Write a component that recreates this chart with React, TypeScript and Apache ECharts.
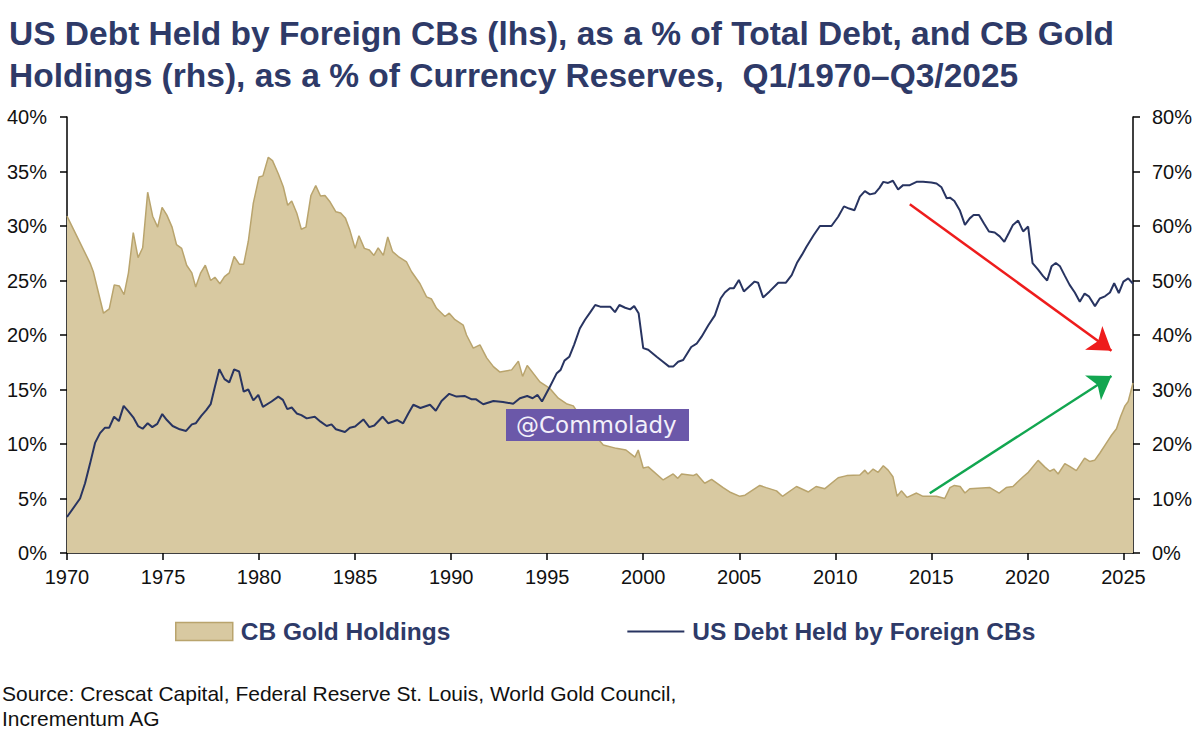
import { useEffect, useRef } from "react";
import * as echarts from "echarts";

const titleLines = [
  "US Debt Held by Foreign CBs (lhs), as a % of Total Debt, and CB Gold",
  "Holdings (rhs), as a % of Currency Reserves,  Q1/1970–Q3/2025",
];
const sourceLines = [
  "Source: Crescat Capital, Federal Reserve St. Louis, World Gold Council,",
  "Incrementum AG",
];
const seriesNames = ["CB Gold Holdings", "US Debt Held by Foreign CBs"];
const yearTicks = [1970, 1975, 1980, 1985, 1990, 1995, 2000, 2005, 2010, 2015, 2020, 2025];
const watermarkText = "@Commolady";

// CB gold holdings, % of currency reserves (rhs)
const goldYears = [
  1970.0, 1971.2, 1971.37, 1971.9, 1972.2, 1972.46, 1972.72, 1972.97, 1973.2, 1973.45, 1973.7, 1973.94,
  1974.2, 1974.46, 1974.72, 1974.95, 1975.2, 1975.47, 1975.7, 1975.97, 1976.23, 1976.5, 1976.7, 1976.96,
  1977.2, 1977.48, 1977.7, 1977.96, 1978.2, 1978.45, 1978.7, 1978.97, 1979.2, 1979.44, 1979.7, 1980.0,
  1980.2, 1980.48, 1980.7, 1981.0, 1981.26, 1981.49, 1981.7, 1981.96, 1982.2, 1982.44, 1982.7, 1982.95,
  1983.2, 1983.43, 1983.7, 1984.0, 1984.25, 1984.5, 1984.73, 1985.0, 1985.2, 1985.48, 1985.74, 1985.98,
  1986.2, 1986.47, 1986.7, 1986.95, 1987.25, 1987.68, 1987.94, 1988.38, 1988.72, 1988.98, 1989.24, 1989.68,
  1989.9, 1990.2, 1990.63, 1990.8, 1991.15, 1991.5, 1991.85, 1992.2, 1992.54, 1993.15, 1993.5, 1993.72,
  1993.96, 1994.62, 1995.14, 1995.58, 1996.0, 1996.36, 1997.1, 1997.92, 1998.6, 1999.1, 1999.57, 1999.74,
  2000.0, 2000.26, 2001.04, 2001.56, 2001.8, 2002.0, 2002.6, 2002.78, 2003.2, 2003.56, 2004.16, 2004.5,
  2005.03, 2005.3, 2006.07, 2006.4, 2006.94, 2007.25, 2007.98, 2008.6, 2009.0, 2009.46, 2010.15, 2010.6,
  2011.28, 2011.54, 2011.7, 2011.97, 2012.23, 2012.5, 2012.75, 2013.0, 2013.22, 2013.44, 2013.74, 2014.23,
  2014.57, 2015.27, 2015.7, 2015.97, 2016.2, 2016.5, 2016.75, 2017.0, 2018.05, 2018.53, 2018.9, 2019.25,
  2019.78, 2020.05, 2020.56, 2020.9, 2021.17, 2021.38, 2021.6, 2021.95, 2022.2, 2022.55, 2022.98, 2023.24,
  2023.5, 2023.77, 2024.12, 2024.38, 2024.64, 2024.85, 2025.08, 2025.25, 2025.5,
];
const goldShare = [
  61.8, 53.2, 51.6, 44.0, 44.8, 49.2, 49.0, 47.4, 51.4, 58.8, 54.2, 56.0,
  66.2, 61.8, 59.8, 63.4, 62.0, 59.8, 56.6, 55.9, 52.8, 51.4, 48.8, 51.4,
  52.8, 50.0, 50.6, 49.4, 50.7, 51.4, 54.4, 53.0, 53.0, 57.2, 64.2, 69.0,
  69.2, 72.6, 72.0, 69.6, 67.2, 63.8, 64.6, 62.4, 59.4, 59.8, 65.6, 67.4,
  65.5, 65.6, 64.4, 62.6, 62.4, 61.4, 59.2, 55.9, 58.2, 55.9, 55.6, 54.6,
  56.0, 54.6, 58.0, 55.3, 54.4, 53.4, 51.6, 49.4, 47.0, 46.6, 44.9, 43.4,
  44.0, 42.8, 41.8, 40.0, 37.6, 38.2, 35.8, 34.2, 33.2, 33.6, 35.2, 32.4,
  34.4, 31.4, 30.2, 28.4, 27.4, 27.0, 23.2, 19.8, 19.2, 18.9, 17.6, 18.9,
  15.6, 15.8, 13.4, 14.5, 13.7, 14.5, 14.2, 14.5, 12.8, 13.5, 12.0, 11.2,
  10.4, 10.6, 12.4, 12.0, 11.4, 10.4, 12.2, 11.2, 12.2, 11.8, 13.8, 14.2,
  14.3, 15.2, 14.5, 15.4, 14.8, 16.0, 15.2, 14.0, 10.4, 11.4, 10.2, 11.0,
  10.4, 10.4, 10.0, 12.0, 12.4, 12.2, 11.0, 11.8, 12.0, 11.0, 12.0, 12.2,
  14.0, 14.8, 17.0, 15.8, 15.0, 15.4, 14.5, 16.4, 15.9, 15.1, 17.4, 16.8,
  17.0, 18.3, 20.2, 21.6, 22.8, 25.0, 27.0, 27.8, 31.2,
];

// US debt held by foreign CBs, % of total debt (lhs)
const debtYears = [
  1970.0, 1970.68, 1970.94, 1971.2, 1971.46, 1971.72, 1971.98, 1972.2, 1972.45, 1972.7, 1972.95, 1973.2,
  1973.45, 1973.7, 1973.94, 1974.2, 1974.44, 1974.7, 1974.96, 1975.2, 1975.5, 1975.87, 1976.2, 1976.5,
  1976.7, 1977.0, 1977.25, 1977.48, 1977.7, 1977.93, 1978.2, 1978.45, 1978.7, 1978.96, 1979.2, 1979.44,
  1979.7, 1979.96, 1980.2, 1980.65, 1981.0, 1981.24, 1981.47, 1981.7, 1981.96, 1982.2, 1982.48, 1982.9,
  1983.2, 1983.52, 1983.77, 1984.0, 1984.47, 1984.73, 1985.0, 1985.43, 1985.74, 1986.0, 1986.43, 1986.73,
  1987.2, 1987.5, 1987.77, 1988.03, 1988.4, 1988.9, 1989.2, 1989.5, 1989.9, 1990.28, 1990.72, 1991.07,
  1991.3, 1991.67, 1992.2, 1992.7, 1993.23, 1993.58, 1993.96, 1994.24, 1994.5, 1994.73, 1995.14, 1995.5,
  1995.7, 1995.9, 1996.15, 1996.4, 1996.7, 1996.97, 1997.23, 1997.5, 1997.76, 1998.28, 1998.53, 1998.76,
  1999.06, 1999.32, 1999.53, 1999.76, 2000.0, 2000.26, 2000.7, 2001.03, 2001.35, 2001.56, 2001.82, 2002.08,
  2002.5, 2002.78, 2003.04, 2003.39, 2003.73, 2004.03, 2004.25, 2004.51, 2004.72, 2004.98, 2005.24, 2005.55,
  2005.8, 2005.98, 2006.24, 2006.58, 2007.03, 2007.43, 2007.73, 2008.0, 2008.26, 2008.5, 2008.87, 2009.2,
  2009.55, 2009.8, 2010.15, 2010.45, 2010.72, 2011.0, 2011.28, 2011.54, 2011.8, 2012.06, 2012.3, 2012.5,
  2012.75, 2013.0, 2013.27, 2013.53, 2013.88, 2014.23, 2014.57, 2015.0, 2015.27, 2015.53, 2015.8, 2015.97,
  2016.2, 2016.48, 2016.75, 2017.0, 2017.2, 2017.48, 2017.75, 2018.0, 2018.3, 2018.56, 2018.8, 2019.05,
  2019.25, 2019.52, 2019.78, 2020.04, 2020.27, 2020.56, 2020.82, 2021.03, 2021.26, 2021.48, 2021.7, 2021.96,
  2022.2, 2022.47, 2022.73, 2022.98, 2023.2, 2023.52, 2023.77, 2024.04, 2024.3, 2024.52, 2024.76, 2025.0,
  2025.25, 2025.5,
];
const debtShare = [
  3.3, 5.0, 6.4, 8.2, 10.1, 11.0, 11.5, 11.5, 12.5, 12.1, 13.5, 13.0,
  12.45, 11.65, 11.4, 11.9, 11.55, 11.85, 12.75, 12.2, 11.65, 11.35, 11.2, 11.8,
  11.9, 12.6, 13.1, 13.65, 15.25, 16.85, 15.95, 15.65, 16.85, 16.65, 14.8, 15.0,
  14.0, 14.5, 13.4, 13.9, 14.35, 14.05, 13.2, 13.35, 12.8, 12.65, 12.35, 12.5,
  12.05, 11.65, 11.8, 11.35, 11.1, 11.5, 11.6, 12.25, 11.55, 11.7, 12.5, 11.9,
  12.2, 11.9, 12.8, 13.6, 13.3, 13.6, 13.05, 13.95, 14.6, 14.35, 14.4, 14.1,
  14.1, 13.65, 13.95, 13.85, 13.7, 14.2, 14.4, 14.2, 14.5, 13.9, 15.25, 16.5,
  16.8, 17.65, 18.0, 19.1, 20.6, 21.4, 22.05, 22.75, 22.6, 22.6, 22.1, 22.75,
  22.5, 22.35, 22.65, 22.0, 18.8, 18.65, 18.0, 17.55, 17.1, 17.1, 17.55, 17.7,
  18.9, 19.2, 19.85, 20.9, 21.8, 23.35, 23.9, 24.3, 24.3, 25.05, 24.0, 24.5,
  24.9, 24.8, 23.45, 24.0, 24.8, 24.8, 25.5, 26.6, 27.35, 28.1, 29.15, 30.0,
  30.0, 30.0, 30.85, 31.8, 31.6, 31.45, 32.7, 33.2, 32.9, 33.0, 33.5, 34.05,
  33.95, 34.15, 33.35, 33.75, 33.75, 34.05, 34.05, 34.0, 33.9, 33.55, 32.55, 32.6,
  32.3, 31.45, 30.1, 30.7, 31.0, 31.0, 30.2, 29.5, 29.4, 29.05, 28.55, 29.4,
  30.1, 30.5, 29.5, 29.95, 26.6, 26.0, 25.4, 25.0, 26.3, 26.6, 26.3, 25.4,
  24.6, 23.9, 23.05, 23.8, 23.55, 22.65, 23.35, 23.55, 23.9, 24.75, 23.85, 24.9,
  25.2, 24.7,
];

// Arrow annotations (lhs coordinates): [start, tip]
const redArrow = [
  [2013.88, 32.0],
  [2024.38, 18.56],
];
const greenArrow = [
  [2014.92, 5.48],
  [2024.38, 16.24],
];

export default function App() {
  const ref = useRef<HTMLDivElement>(null);

  useEffect(() => {
    document.body.style.margin = "0";
    const chart = echarts.init(ref.current!, null, { renderer: "svg" });
    const font = "'Liberation Sans', Arial, Helvetica, sans-serif";
    const navy = "#2E3A68";
    const goldFill = "#D8C9A1";
    const goldEdge = "#B9A46D";
    const debtColor = "#283461";

    const goldData = goldYears.map((y, i) => [y, goldShare[i]]);
    const debtData = debtYears.map((y, i) => [y, debtShare[i]]);

    const yAxisCommon = {
      type: "value",
      splitLine: { show: false },
      axisLine: { show: true, onZero: false, lineStyle: { color: "#000", width: 1.5 } },
      axisTick: { show: true, inside: false, length: 7, lineStyle: { color: "#000", width: 1.5 } },
      axisLabel: { fontSize: 20, color: "#111", fontFamily: font, formatter: "{value}%" },
    };

    const redStyle = { color: "#EE1C1C", width: 2.5, type: "solid" };
    const greenStyle = { color: "#12A650", width: 2.5, type: "solid" };

    chart.setOption({
      animation: false,
      backgroundColor: "#fff",
      title: {
        text: titleLines.join("\n"),
        left: 4,
        top: 7,
        textStyle: {
          fontSize: 33.5,
          fontWeight: "bold",
          color: navy,
          lineHeight: 42,
          fontFamily: font,
        },
      },
      grid: { left: 67, right: 67, top: 117, bottom: 187, containLabel: false },
      legend: {
        left: 175,
        top: 619,
        padding: 0,
        itemWidth: 57,
        itemHeight: 18,
        itemGap: 177,
        textStyle: {
          fontSize: 24.5,
          fontWeight: "bold",
          color: navy,
          fontFamily: font,
          padding: [0, 0, 0, 3],
        },
        data: [
          {
            name: seriesNames[0],
            icon: "rect",
            itemStyle: { color: goldFill, borderColor: goldEdge, borderWidth: 1.5 },
          },
          {
            name: seriesNames[1],
            icon: "path://M0,8 L58,8 L58,10 L0,10 Z",
            itemStyle: { color: debtColor, borderWidth: 0 },
          },
        ],
      },
      xAxis: {
        type: "value",
        min: 1970,
        max: 2025.5,
        interval: 5,
        splitLine: { show: false },
        axisLine: { show: true, onZero: false, lineStyle: { color: "#000", width: 1.5 } },
        axisTick: { show: true, inside: false, length: 7, lineStyle: { color: "#000", width: 1.5 } },
        axisLabel: {
          fontSize: 20,
          color: "#111",
          fontFamily: font,
          margin: 14,
          showMaxLabel: false,
          formatter: (v: number) => (yearTicks.includes(v) ? String(v) : ""),
        },
      },
      yAxis: [
        {
          ...yAxisCommon,
          position: "left",
          min: 0,
          max: 40,
          interval: 5,
          axisLabel: { ...yAxisCommon.axisLabel, margin: 20 },
        },
        {
          ...yAxisCommon,
          position: "right",
          min: 0,
          max: 80,
          interval: 10,
          axisLabel: { ...yAxisCommon.axisLabel, margin: 19 },
        },
      ],
      series: [
        {
          name: seriesNames[0],
          type: "line",
          yAxisIndex: 1,
          data: goldData,
          symbol: "none",
          showSymbol: false,
          color: goldFill,
          lineStyle: { color: goldEdge, width: 1.5 },
          areaStyle: { color: goldFill, opacity: 1 },
          z: 1,
        },
        {
          name: seriesNames[1],
          type: "line",
          yAxisIndex: 0,
          data: debtData,
          symbol: "none",
          showSymbol: false,
          color: debtColor,
          lineStyle: { color: debtColor, width: 2 },
          z: 3,
          markLine: {
            silent: true,
            symbol: ["none", "arrow"],
            symbolSize: 22,
            label: { show: false },
            emphasis: { disabled: true },
            data: [
              [
                { coord: redArrow[0], lineStyle: redStyle },
                { coord: redArrow[1], lineStyle: redStyle },
              ],
              [
                { coord: greenArrow[0], lineStyle: greenStyle },
                { coord: greenArrow[1], lineStyle: greenStyle },
              ],
            ],
          },
        },
      ],
      graphic: [
        {
          type: "rect",
          z: 100,
          shape: { x: 506, y: 409, width: 183, height: 32 },
          style: { fill: "#6B58A9" },
        },
        {
          type: "text",
          z: 101,
          x: 516,
          y: 425,
          style: {
            text: watermarkText,
            font: "23px 'DejaVu Sans', sans-serif",
            fill: "#F3F0FA",
            verticalAlign: "middle",
          },
        },
        {
          type: "text",
          left: 2,
          top: 681,
          style: {
            text: sourceLines.join("\n"),
            font: `21px ${font}`,
            fill: "#111",
            lineHeight: 25,
          },
        },
      ],
    });

    return () => chart.dispose();
  }, []);

  return <div ref={ref} style={{ width: 1200, height: 740 }} />;
}
